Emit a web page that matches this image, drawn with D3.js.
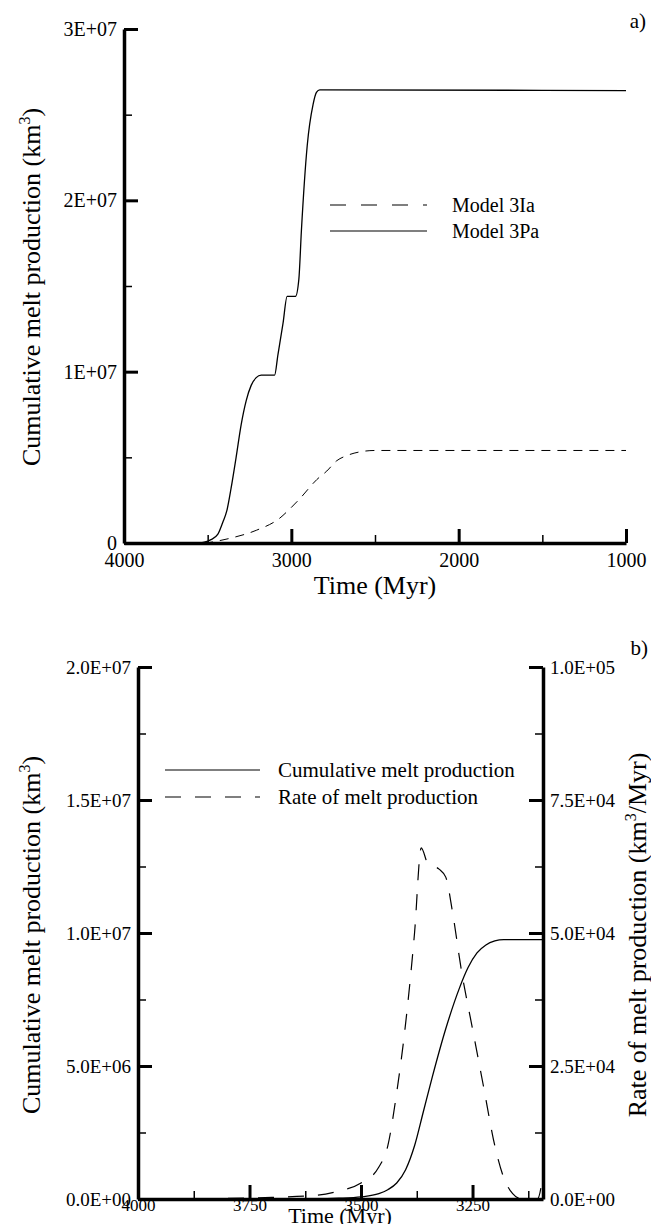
<!DOCTYPE html>
<html><head>
<meta charset="utf-8">
<script src="https://d3js.org/d3.v7.min.js"></script>
<style>
  body { margin: 0; background: #fff; }
  svg text { font-family: "Liberation Serif", "DejaVu Serif", serif; fill: #000; }
</style>
</head>
<body>
<svg id="fig" width="651" height="1224"></svg>
<script>
// ---- data ----
// panel a) : time (Myr) vs cumulative melt (km3)
const model3Pa = [
  [4000,0],[3560,0],[3520,0.05e6],[3480,0.2e6],[3440,0.5e6],[3410,1.2e6],[3385,1.9e6],
  [3360,3.2e6],[3330,5.0e6],[3300,6.9e6],[3270,8.3e6],[3240,9.2e6],[3210,9.65e6],
  [3180,9.8e6],[3100,9.8e6],[3080,11.0e6],[3050,12.8e6],[3025,14.4e6],[2975,14.4e6],
  [2955,15.4e6],[2940,18.2e6],[2905,23.2e6],[2870,25.6e6],[2850,26.3e6],[2830,26.45e6],
  [1000,26.4e6]
];
const model3Ia = [
  [4000,0],[3520,0],[3450,0.1e6],[3356,0.3e6],[3207,0.75e6],[3068,1.46e6],[3008,2.0e6],
  [2948,2.6e6],[2848,3.7e6],[2788,4.2e6],[2729,4.8e6],[2669,5.1e6],[2600,5.3e6],
  [2500,5.4e6],[1000,5.4e6]
];
const aMajorX = [4000,3000,2000,1000];
const aMinorX = [3500,2500,1500];
const aMajorY = [0,1e7,2e7,3e7];
const aMinorY = [5e6,1.5e7,2.5e7];
const aLabelsY = ["0","1E+07","2E+07","3E+07"];
const aLegend = ["Model 3Ia","Model 3Pa"];

// panel b) : cumulative (left axis) and rate (right axis)
const cumulative = [
  [4000,0],[3600,0.01e6],[3550,0.03e6],[3500,0.08e6],[3460,0.2e6],[3440,0.35e6],
  [3420,0.6e6],[3400,1.1e6],[3380,2.0e6],[3360,3.3e6],[3340,4.6e6],[3310,6.4e6],
  [3280,7.9e6],[3260,8.7e6],[3240,9.25e6],[3220,9.55e6],[3200,9.7e6],[3180,9.75e6],
  [3090,9.75e6]
];
const rate = [
  [4000,0],[3900,0],[3800,100],[3700,300],[3600,700],[3550,1500],[3500,3000],
  [3460,6000],[3440,10000],[3420,20000],[3400,33000],[3380,50000],[3365,66000],
  [3350,63000],[3325,62000],[3310,60500],[3295,54000],[3275,43000],[3250,32000],
  [3225,21000],[3200,10000],[3180,4000],[3160,1000],[3140,0],[3105,0],[3095,3000],
  [3090,8000]
];
const bMajorX = [4000,3750,3500,3250];
const bMinorX = [3875,3625,3375,3125];
const bMajorYL = [0,5e6,1e7,1.5e7,2e7];
const bMinorYL = [2.5e6,7.5e6,1.25e7,1.75e7];
const bLabelsYL = ["0.0E+00","5.0E+06","1.0E+07","1.5E+07","2.0E+07"];
const bMajorYR = [0,2.5e4,5e4,7.5e4,1e5];
const bMinorYR = [1.25e4,3.75e4,6.25e4,8.75e4];
const bLabelsYR = ["0.0E+00","2.5E+04","5.0E+04","7.5E+04","1.0E+05"];
const bLegend = ["Cumulative melt production","Rate of melt production"];

const svg = d3.select("#fig");

// axis with thick major ticks and thin minor ticks, all pointing inward
function drawAxis(g, scale, orient, major, minor, labels, off, fs) {
  let axMaj = d3[orient](scale).tickValues(major).tickSizeOuter(0)
      .tickSizeInner(-14).tickFormat((d,i) => labels[i]);
  let gm = g.append("g").call(axMaj);
  gm.select(".domain").attr("stroke","#000").attr("stroke-width",3.5);
  gm.selectAll(".tick line").attr("stroke","#000").attr("stroke-width",3);
  let t = gm.selectAll(".tick text").style("font-size", fs + "px").attr("fill","#000");
  if (orient === "axisBottom") t.attr("y", off).attr("dy","0.71em");
  if (orient === "axisLeft") t.attr("x", -off);
  if (orient === "axisRight") t.attr("x", off);
  let axMin = d3[orient](scale).tickValues(minor).tickSizeOuter(0)
      .tickSizeInner(-8).tickFormat("");
  let gn = g.append("g").call(axMin);
  gn.select(".domain").remove();
  gn.selectAll(".tick line").attr("stroke","#000").attr("stroke-width",1.5);
  return gm;
}

function yTitle(g, x, y, main, tail) {
  let t = g.append("text").attr("transform","translate(" + x + "," + y + ") rotate(-90)")
    .attr("text-anchor","middle").style("font-size","26px");
  t.append("tspan").text(main);
  t.append("tspan").attr("dy",-10).style("font-size","16px").text("3");
  t.append("tspan").attr("dy",10).text(tail);
}

// ---------------- panel a ----------------
const ax = d3.scaleLinear().domain([4000,1000]).range([124,626]);
const ay = d3.scaleLinear().domain([0,3e7]).range([543,29]);
const ga = svg.append("g");

const lineA = d3.line().x(d => ax(d[0])).y(d => ay(d[1])).curve(d3.curveMonotoneX);
ga.append("path").datum(model3Ia).attr("d", lineA)
  .attr("fill","none").attr("stroke","#000").attr("stroke-width",1).attr("stroke-dasharray","9,7");
ga.append("path").datum(model3Pa).attr("d", lineA)
  .attr("fill","none").attr("stroke","#000").attr("stroke-width",1.3);

drawAxis(ga.append("g").attr("transform","translate(0,543)"), ax, "axisBottom", aMajorX, aMinorX, aMajorX.map(String), 10, 20);
drawAxis(ga.append("g").attr("transform","translate(124,0)"), ay, "axisLeft", aMajorY, aMinorY, aLabelsY, 7, 20);

ga.append("text").attr("x",375).attr("y",594).attr("text-anchor","middle")
  .style("font-size","26px").text("Time (Myr)");
yTitle(ga, 40, 287, "Cumulative melt production (km", ")");
ga.append("text").attr("x",646).attr("y",28).attr("text-anchor","end")
  .style("font-size","21px").text("a)");

// legend a
aLegend.forEach(function(name, i) {
  let y = 205 + i*26;
  ga.append("line").attr("x1",330).attr("x2",427).attr("y1",y).attr("y2",y)
    .attr("stroke","#000").attr("stroke-width",1.2)
    .attr("stroke-dasharray", i === 0 ? "16,15" : null);
  ga.append("text").attr("x",452).attr("y",y+7).style("font-size","20px").text(name);
});

// ---------------- panel b ----------------
const bx = d3.scaleLinear().domain([4000,3092]).range([138,543]);
const byL = d3.scaleLinear().domain([0,2e7]).range([1199,667]);
const byR = d3.scaleLinear().domain([0,1e5]).range([1199,667]);
const gb = svg.append("g");

const lineC = d3.line().x(d => bx(d[0])).y(d => byL(d[1])).curve(d3.curveMonotoneX);
const lineR = d3.line().x(d => bx(d[0])).y(d => byR(d[1])).curve(d3.curveMonotoneX);
gb.append("path").datum(rate).attr("d", lineR)
  .attr("fill","none").attr("stroke","#000").attr("stroke-width",1.2).attr("stroke-dasharray","16,14");
gb.append("path").datum(cumulative).attr("d", lineC)
  .attr("fill","none").attr("stroke","#000").attr("stroke-width",1.3);

drawAxis(gb.append("g").attr("transform","translate(0,1199)"), bx, "axisBottom", bMajorX, bMinorX, bMajorX.map(String), 0, 17);
drawAxis(gb.append("g").attr("transform","translate(138,0)"), byL, "axisLeft", bMajorYL, bMinorYL, bLabelsYL, 7, 19);
drawAxis(gb.append("g").attr("transform","translate(543,0)"), byR, "axisRight", bMajorYR, bMinorYR, bLabelsYR, 7, 19);

gb.append("text").attr("x",340).attr("y",1223).attr("text-anchor","middle")
  .style("font-size","22px").text("Time (Myr)");
yTitle(gb, 40, 935, "Cumulative melt production (km", ")");
yTitle(gb, 646, 935, "Rate of melt production (km", "/Myr)");
gb.append("text").attr("x",648).attr("y",655).attr("text-anchor","end")
  .style("font-size","21px").text("b)");

// legend b
bLegend.forEach(function(name, i) {
  let y = 770 + i*27;
  gb.append("line").attr("x1",165).attr("x2",260).attr("y1",y).attr("y2",y)
    .attr("stroke","#000").attr("stroke-width",1.2)
    .attr("stroke-dasharray", i === 1 ? "16,14" : null);
  gb.append("text").attr("x",278).attr("y",y+7).style("font-size","21px").text(name);
});
</script>
</body>
</html>
